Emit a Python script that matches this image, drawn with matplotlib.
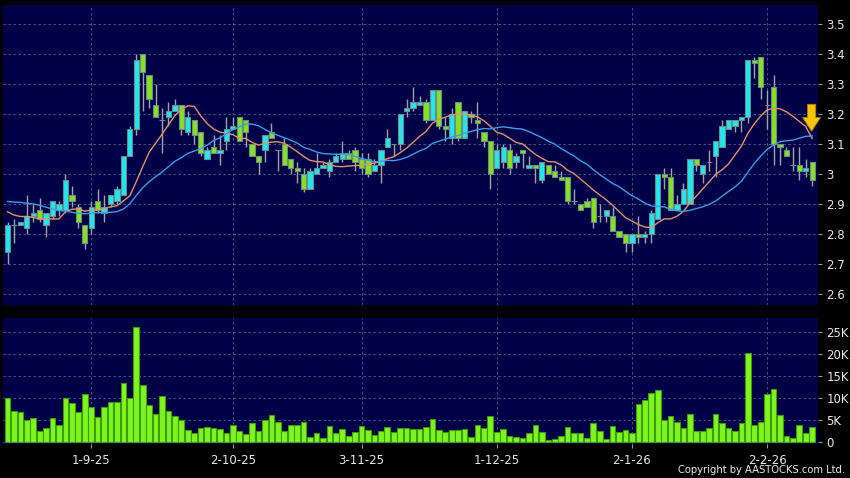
import numpy as np
import pandas as pd
import matplotlib
matplotlib.use("Agg")
import matplotlib.pyplot as plt

# daily candles (HKD)
open_ = [2.74, 2.83, 2.83, 2.82, 2.86, 2.88, 2.83, 2.86, 2.88, 2.88,
         2.93, 2.89, 2.83, 2.82, 2.91, 2.87, 2.90, 2.91, 2.93, 3.06,
         3.15, 3.40, 3.33, 3.23, 3.18, 3.19, 3.21, 3.23, 3.14, 3.18,
         3.14, 3.05, 3.09, 3.07, 3.11, 3.15, 3.19, 3.18, 3.10, 3.06,
         3.08, 3.14, 3.08, 3.10, 3.05, 3.02, 3.00, 2.95, 3.00, 3.02,
         3.01, 3.04, 3.05, 3.07, 3.08, 3.05, 3.05, 3.01, 3.03, 3.09,
         3.10, 3.10, 3.21, 3.22, 3.23, 3.24, 3.18, 3.28, 3.16, 3.12,
         3.24, 3.12, 3.20, 3.18, 3.14, 3.11, 3.02, 3.04, 3.08, 3.04,
         3.08, 3.02, 3.03, 2.98, 3.03, 3.01, 2.99, 2.99, 2.91, 2.90,
         2.91, 2.92, 2.86, 2.86, 2.86, 2.81, 2.80, 2.77, 2.80, 2.79,
         2.80, 2.85, 3.00, 2.99, 2.88, 2.90, 2.90, 3.05, 3.00, 3.04,
         3.06, 3.09, 3.15, 3.16, 3.18, 3.19, 3.38, 3.39, 3.23, 3.29,
         3.10, 3.08, 3.03, 3.03, 3.01, 3.04]
high = [2.84, 2.85, 2.84, 2.93, 2.90, 2.92, 2.87, 2.91, 2.91, 3.00,
        2.96, 2.90, 2.83, 2.91, 2.95, 2.93, 2.93, 2.96, 3.06, 3.16,
        3.40, 3.40, 3.33, 3.30, 3.22, 3.24, 3.25, 3.23, 3.21, 3.18,
        3.14, 3.09, 3.13, 3.13, 3.19, 3.19, 3.19, 3.18, 3.10, 3.06,
        3.13, 3.17, 3.08, 3.12, 3.05, 3.04, 3.02, 3.02, 3.07, 3.04,
        3.05, 3.07, 3.11, 3.08, 3.09, 3.07, 3.07, 3.05, 3.08, 3.15,
        3.10, 3.20, 3.25, 3.29, 3.26, 3.25, 3.28, 3.28, 3.19, 3.22,
        3.24, 3.21, 3.21, 3.24, 3.14, 3.11, 3.10, 3.10, 3.10, 3.07,
        3.08, 3.06, 3.03, 3.04, 3.03, 3.03, 3.01, 2.99, 2.95, 2.90,
        2.92, 2.92, 2.90, 2.88, 2.89, 2.81, 2.80, 2.80, 2.86, 2.81,
        2.88, 3.00, 3.02, 3.02, 2.93, 2.97, 3.05, 3.05, 3.03, 3.08,
        3.11, 3.18, 3.18, 3.18, 3.19, 3.38, 3.39, 3.39, 3.28, 3.33,
        3.10, 3.09, 3.09, 3.09, 3.05, 3.04]
low = [2.70, 2.77, 2.83, 2.80, 2.84, 2.84, 2.79, 2.85, 2.86, 2.87,
       2.89, 2.82, 2.75, 2.80, 2.87, 2.84, 2.89, 2.90, 2.93, 3.06,
       3.13, 3.21, 3.22, 3.19, 3.07, 3.16, 3.21, 3.13, 3.13, 3.10,
       3.06, 3.05, 3.07, 3.03, 3.08, 3.15, 3.11, 3.09, 3.06, 3.00,
       3.04, 3.12, 3.01, 3.03, 3.00, 2.97, 2.94, 2.95, 3.00, 3.02,
       2.99, 3.04, 3.04, 3.05, 3.01, 3.00, 2.99, 3.01, 2.97, 3.09,
       3.06, 3.08, 3.19, 3.21, 3.23, 3.17, 3.18, 3.15, 3.11, 3.10,
       3.11, 3.12, 3.17, 3.12, 3.09, 2.95, 3.02, 3.02, 3.00, 3.02,
       3.02, 3.02, 2.97, 2.97, 3.00, 2.99, 2.98, 2.90, 2.90, 2.88,
       2.89, 2.82, 2.84, 2.84, 2.81, 2.79, 2.74, 2.74, 2.77, 2.77,
       2.77, 2.85, 2.95, 2.88, 2.88, 2.90, 2.90, 3.01, 2.97, 3.01,
       2.99, 3.09, 3.15, 3.14, 3.14, 3.17, 3.32, 3.25, 3.15, 3.03,
       3.03, 3.06, 3.01, 2.98, 2.99, 2.96]
close = [2.83, 2.83, 2.84, 2.86, 2.87, 2.85, 2.87, 2.91, 2.90, 2.98,
         2.91, 2.84, 2.77, 2.89, 2.88, 2.89, 2.93, 2.95, 3.06, 3.15,
         3.38, 3.34, 3.25, 3.19, 3.18, 3.21, 3.23, 3.15, 3.19, 3.13,
         3.07, 3.08, 3.07, 3.08, 3.15, 3.16, 3.11, 3.14, 3.06, 3.04,
         3.13, 3.12, 3.08, 3.03, 3.02, 3.01, 2.95, 3.01, 3.02, 3.03,
         3.04, 3.06, 3.07, 3.05, 3.04, 3.02, 3.00, 3.03, 3.08, 3.12,
         3.10, 3.20, 3.22, 3.24, 3.24, 3.18, 3.28, 3.16, 3.15, 3.20,
         3.12, 3.21, 3.19, 3.17, 3.11, 3.00, 3.08, 3.09, 3.02, 3.06,
         3.07, 3.03, 3.02, 3.04, 3.00, 2.99, 2.98, 2.91, 2.91, 2.88,
         2.89, 2.84, 2.86, 2.88, 2.81, 2.79, 2.77, 2.80, 2.79, 2.80,
         2.87, 3.00, 2.99, 2.88, 2.90, 2.95, 3.05, 3.03, 3.03, 3.04,
         3.11, 3.16, 3.18, 3.18, 3.19, 3.38, 3.37, 3.29, 3.23, 3.10,
         3.09, 3.06, 3.03, 3.01, 3.02, 2.98]
# volume in thousands of shares
volume = [10.0, 7.1, 6.8, 5.0, 5.5, 2.6, 3.2, 5.4, 4.0, 10.0,
          8.9, 6.8, 10.9, 8.0, 5.8, 8.0, 9.2, 9.2, 13.4, 10.1,
          26.1, 13.1, 8.4, 6.5, 10.4, 7.0, 5.9, 5.1, 2.7, 2.2,
          3.3, 3.5, 3.2, 3.0, 2.0, 3.9, 2.6, 1.9, 4.4, 2.6,
          5.0, 6.2, 4.7, 2.6, 3.8, 3.8, 4.7, 1.3, 2.0, 1.0,
          3.7, 2.1, 2.9, 1.4, 2.3, 3.6, 2.8, 1.7, 2.6, 3.4,
          2.3, 3.2, 3.2, 3.0, 2.9, 3.4, 5.2, 2.8, 2.4, 2.8,
          2.8, 3.0, 1.3, 3.8, 3.3, 5.9, 2.3, 2.9, 1.4, 1.2,
          0.9, 2.2, 3.8, 2.3, 0.5, 0.8, 1.4, 3.4, 2.1, 2.1,
          1.0, 4.3, 2.6, 0.7, 3.7, 2.3, 2.7, 2.2, 8.6, 9.5,
          11.1, 11.9, 5.0, 5.9, 4.6, 3.2, 6.5, 2.6, 2.6, 3.2,
          6.5, 4.3, 3.3, 2.6, 4.4, 20.2, 4.0, 4.6, 11.0, 12.1,
          6.1, 1.5, 1.0, 3.9, 2.2, 3.4]

# moving averages before enough days are on screen
ma10_head = [2.874, 2.863, 2.858, 2.858, 2.855, 2.850, 2.850, 2.850, 2.850]
ma20_head = [2.908, 2.906, 2.905, 2.902, 2.900, 2.895, 2.889, 2.883, 2.878,
             2.876, 2.872, 2.869, 2.867, 2.869, 2.871, 2.871, 2.872, 2.874,
             2.883]

tick_pos = [13, 35, 55, 76, 97, 118]
tick_labels = ["1-9-25", "2-10-25", "3-11-25", "1-12-25", "2-1-26", "2-2-26"]
price_ticks = [2.6, 2.7, 2.8, 2.9, 3.0, 3.1, 3.2, 3.3, 3.4, 3.5]
price_labels = ["2.6", "2.7", "2.8", "2.9", "3", "3.1", "3.2", "3.3", "3.4", "3.5"]
vol_ticks = [0, 5, 10, 15, 20, 25]
vol_labels = ["0", "5K", "10K", "15K", "20K", "25K"]

NAVY = "#000048"
CYAN = "#22e6ee"
GREEN = "#86e21c"
GRID = "#5c5c8c"
TXT = "#e8e8e8"

open_ = np.array(open_)
close = np.array(close)
x = np.arange(len(close))

ma10 = pd.Series(close).rolling(10).mean().to_numpy()
ma10[:len(ma10_head)] = ma10_head
ma20 = pd.Series(close).rolling(20).mean().to_numpy()
ma20[:len(ma20_head)] = ma20_head

W, H = 850, 478
fig = plt.figure(figsize=(W / 100, H / 100), dpi=100, facecolor="black")


def px_axes(x0, y0, x1, y1):
    return fig.add_axes([x0 / W, 1 - y1 / H, (x1 - x0) / W, (y1 - y0) / H])


ax = px_axes(3, 5, 818, 305)
axv = px_axes(3, 318, 818, 444)

for a in (ax, axv):
    a.set_facecolor(NAVY)
    for s in a.spines.values():
        s.set_visible(False)
    a.set_xlim(-0.7, 125.9)
    a.set_xticks(tick_pos)
    a.yaxis.tick_right()
    a.grid(True, color=GRID, ls=(0, (3, 3)), lw=0.6)
    a.set_axisbelow(True)
    a.tick_params(axis="y", colors="#9a9a9a", labelcolor=TXT, length=3,
                  width=0.8, pad=3, labelsize=8.5)

# candles
ax.vlines(x, low, high, color="#a4a4a4", lw=1.0, zorder=2)
body_col = np.where(close > open_, CYAN, GREEN)
ax.bar(x, np.abs(close - open_), bottom=np.minimum(open_, close), width=0.82,
       color=body_col, edgecolor="#6c8c8c", lw=0.8, zorder=3)
ax.plot(x, ma10, color="#e0946a", lw=1.0, zorder=4)
ax.plot(x, ma20, color="#3a9ee6", lw=1.0, zorder=4)
ax.annotate("", xy=(124.9, 3.142), xytext=(124.9, 3.232),
            arrowprops=dict(arrowstyle="simple,head_width=1.3,head_length=1.0,tail_width=0.6",
                            fc="#f5c400", ec="#a88400", lw=0.6,
                            shrinkA=0, shrinkB=0),
            zorder=5)

ax.set_ylim(2.563, 3.563)
ax.set_yticks(price_ticks, price_labels)
ax.tick_params(axis="x", length=0, labelbottom=False)

# volume
axv.bar(x, volume, width=0.88, color="#7ef51e", edgecolor="#3f9a08", lw=0.8, zorder=3)
axv.set_ylim(-0.4, 28.2)
axv.set_yticks(vol_ticks, vol_labels)
axv.set_xticks(tick_pos, tick_labels)
axv.tick_params(axis="x", colors="#9a9a9a", labelcolor=TXT, length=3, width=0.8,
                pad=4, labelsize=8.5)

fig.text(845 / W, 1 - 470 / H, "Copyright by AASTOCKS.com Ltd.", ha="right",
         va="center", color=TXT, fontsize=7.2)

fig.savefig("out.png", dpi=100, facecolor="black")
